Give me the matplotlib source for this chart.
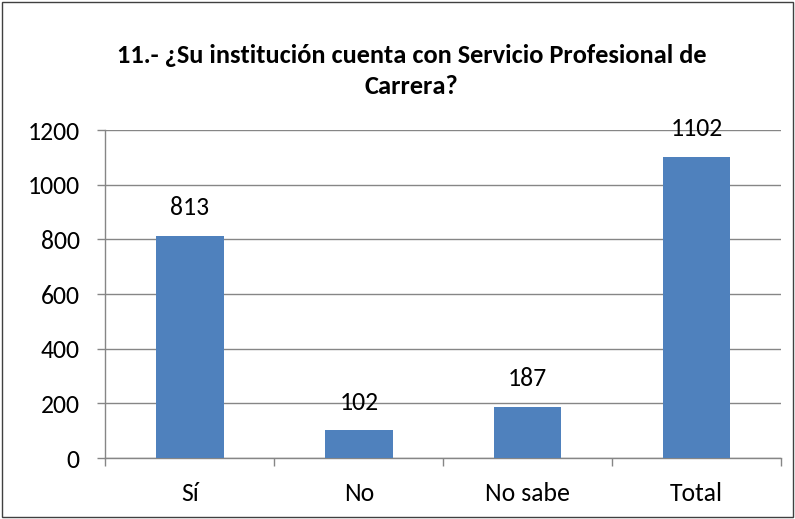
import matplotlib.pyplot as plt
from matplotlib.patches import Rectangle

# Datos
categorias = ["Sí", "No", "No sabe", "Total"]
valores = [813, 102, 187, 1102]
titulo = "11.- ¿Su institución cuenta con Servicio Profesional de\nCarrera?"
yticks = [0, 200, 400, 600, 800, 1000, 1200]

plt.rcParams['font.family'] = ['Carlito', 'Open Sans', 'DejaVu Sans']

GRIS = "#868686"
AZUL = "#4F81BD"
FS = 18.5

fig = plt.figure(figsize=(7.95, 5.19), dpi=100)
ax = fig.add_axes([0.1327, 0.1175, 0.8497, 0.632])

x = list(range(len(categorias)))
ax.bar(x, valores, width=0.4, color=AZUL, zorder=3)

for xi, v in zip(x, valores):
    ax.annotate(str(v), (xi, v), xytext=(0, 28), textcoords='offset pixels',
                ha='center', va='center', fontsize=FS, zorder=4)

ax.set_xlim(-0.5, len(categorias) - 0.5)
ax.set_ylim(0, 1200)
ax.set_yticks(yticks)
ax.yaxis.grid(True, color=GRIS, linewidth=1, zorder=0)

ax.set_xticks(x)
ax.set_xticklabels(categorias)
ax.set_xticks([i - 0.5 for i in range(len(categorias) + 1)], minor=True)
ax.tick_params(axis='x', which='major', length=0, pad=17, labelsize=FS)
ax.tick_params(axis='x', which='minor', length=6, color=GRIS, width=1)
ax.tick_params(axis='y', length=6, color=GRIS, width=1, labelsize=FS, pad=12.5)

for lado in ['top', 'right']:
    ax.spines[lado].set_visible(False)
for lado in ['left', 'bottom']:
    ax.spines[lado].set_color(GRIS)
    ax.spines[lado].set_linewidth(1)

fig.text(0.518, 0.863, titulo, ha='center', va='center', fontsize=19,
         fontweight='bold', linespacing=1.42)

# marco del gráfico
fig.patches.append(Rectangle((0.002, 0.003), 0.996, 0.994, transform=fig.transFigure,
                             fill=False, edgecolor="#404040", linewidth=1))

fig.savefig("out.png", dpi=100)
